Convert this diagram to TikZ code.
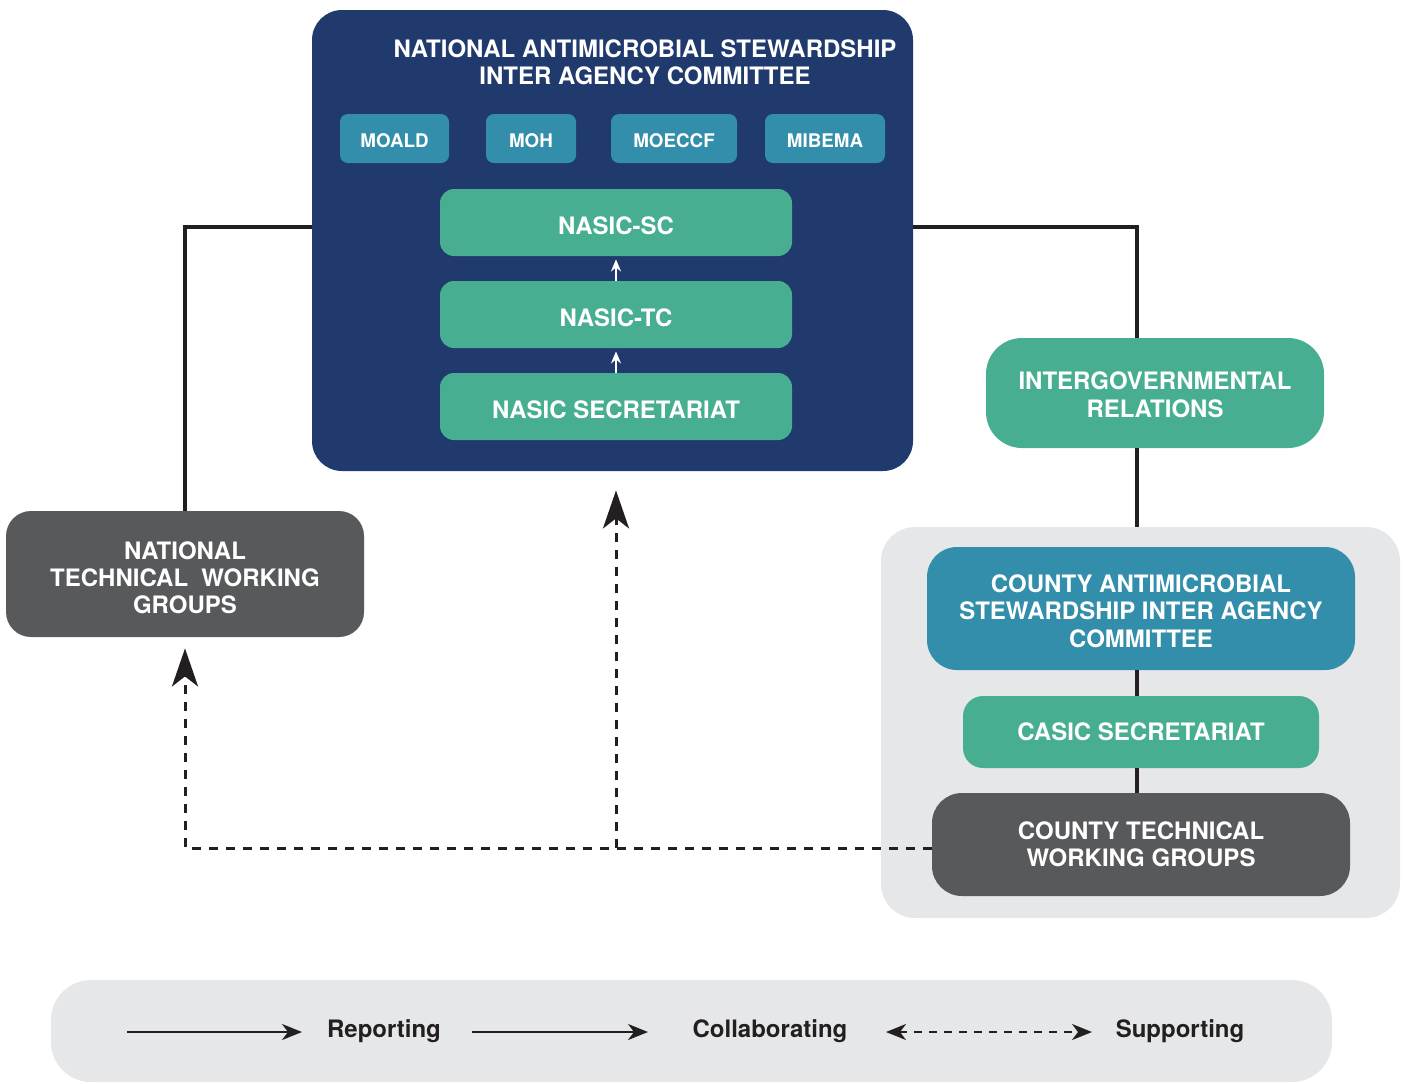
\documentclass[tikz,border=0pt]{standalone}
\usepackage{fontspec}
\setmainfont{TeX Gyre Heros}
\usetikzlibrary{arrows.meta,calc}
\definecolor{navy}{HTML}{203A6E}
\definecolor{teal}{HTML}{328EAB}
\definecolor{mint}{HTML}{47AE91}
\definecolor{dgray}{HTML}{58595B}
\definecolor{lgray}{HTML}{E6E7E9}
\definecolor{ink}{HTML}{231F20}
\tikzset{legtip/.tip={Stealth[length=10pt,width=8pt,inset=3pt]}}
\newcommand\topstrut[1]{\rule{0pt}{#1}}
\begin{document}
\begin{tikzpicture}[x=0.5pt,y=-0.5pt,
  txt/.style={inner sep=0pt, align=center, text=white, font=\bfseries\fontsize{12}{13.7}\selectfont},
  smallbox/.style={txt, fill=teal, minimum height=24.5pt, rounded corners=4pt, font=\bfseries\fontsize{9.4}{11}\selectfont},
  nasicbox/.style={txt, fill=mint, minimum width=176pt, minimum height=33.5pt, rounded corners=7pt},
  conn/.style={draw=ink, line width=1.7pt},
  supp/.style={draw=ink, line width=1.5pt, dash pattern=on 4.5pt off 4pt, -{Stealth[length=19pt,width=13pt,inset=5pt]}},
  legtxt/.style={inner sep=0pt, text=ink, font=\bfseries\fontsize{12}{13.7}\selectfont},
  legarrow/.style={draw=ink, line width=0.9pt, -{legtip}},
  whitearrow/.style={draw=white, line width=1.2pt, shorten >=1.5pt, -{Stealth[length=6pt,width=5pt]}}
]
\useasboundingbox (0,0) rectangle (1407,1083);

% National committee
\node[fill=navy, minimum width=300.5pt, minimum height=230.5pt, rounded corners=15pt] (navy) at (612.5,240.5) {};
\node[txt] (title) at (645,62.5) {NATIONAL ANTIMICROBIAL STEWARDSHIP\\INTER AGENCY COMMITTEE};
\node[smallbox, minimum width=54.5pt] (moald) at (394.5,138.5) {\topstrut{8.8pt}MOALD};
\node[smallbox, minimum width=45pt] (moh) at (531,138.5) {\topstrut{8.8pt}MOH};
\node[smallbox, minimum width=63pt] (moeccf) at (674,138.5) {\topstrut{8.8pt}MOECCF};
\node[smallbox, minimum width=60pt] (mibema) at (825,138.5) {\topstrut{8.8pt}MIBEMA};
\node[nasicbox] (sc) at (616,222.5) {\topstrut{12.6pt}NASIC-SC};
\node[nasicbox] (tc) at (616,314.5) {\topstrut{12.6pt}NASIC-TC};
\node[nasicbox] (sec) at (616,406.5) {\topstrut{12.6pt}NASIC SECRETARIAT};
\draw[whitearrow] (tc.north) -- (sc.south);
\draw[whitearrow] (sec.north) -- (tc.south);

% National technical working groups
\node[txt, fill=dgray, minimum width=179pt, minimum height=63pt, rounded corners=12.5pt] (ntwg) at (185,574) {\topstrut{12.6pt}NATIONAL\\TECHNICAL\ \ WORKING\\GROUPS};

% Intergovernmental relations
\node[txt, fill=mint, minimum width=169pt, minimum height=55pt, rounded corners=18pt] (igr) at (1155,393) {\topstrut{10.6pt}INTERGOVERNMENTAL\\RELATIONS};

% County
\node[fill=lgray, minimum width=259.5pt, minimum height=195.5pt, rounded corners=17pt] (county) at (1140.5,722.5) {};
\node[txt, fill=teal, minimum width=214pt, minimum height=61.5pt, rounded corners=15pt] (cc) at (1141,608.5) {\topstrut{11.6pt}COUNTY ANTIMICROBIAL\\STEWARDSHIP INTER AGENCY\\COMMITTEE};
\node[txt, fill=mint, minimum width=178pt, minimum height=36pt, rounded corners=10pt] (casic) at (1141,732) {CASIC SECRETARIAT};
\node[txt, fill=dgray, minimum width=209pt, minimum height=51.5pt, rounded corners=15pt] (ctwg) at (1141,844.5) {COUNTY TECHNICAL\\WORKING GROUPS};

% helper coordinates
\coordinate (ly) at (0,227);
\coordinate (lx) at (1137,0);
\coordinate (dy) at (0,848);
\coordinate (jn) at (616,848);

% solid connectors
\draw[conn] (navy.west |- ly) -| (ntwg.north);
\draw[conn] (navy.east |- ly) -| (lx |- igr.north);
\draw[conn] (lx |- igr.south) -- (lx |- county.north);
\draw[conn] (lx |- cc.south) -- (lx |- casic.north);
\draw[conn] (lx |- casic.south) -- (lx |- ctwg.north);

% supporting (dashed) connectors
\draw[supp, shorten >=5.5pt] (ctwg.west |- dy) -| (ntwg.south);
\draw[supp, shorten >=9.5pt] (jn) -- (jn |- navy.south);

% legend
\node[fill=lgray, minimum width=640.5pt, minimum height=51pt, rounded corners=20pt] (legend) at (691.5,1031) {};
\coordinate (r1) at (127,1032); \coordinate (r2) at (302,1032);
\coordinate (c1) at (472,1032); \coordinate (c2) at (648,1032);
\coordinate (s1) at (886,1032); \coordinate (s2) at (1092,1032);
\draw[legarrow] (r1) -- (r2);
\node[legtxt] (rep) at (384,1031) {Reporting};
\draw[legarrow] (c1) -- (c2);
\node[legtxt] (col) at (770,1031) {Collaborating};
\draw[draw=ink, line width=0.9pt, dash pattern=on 4pt off 3.5pt, {legtip}-{legtip}] (s1) -- (s2);
\node[legtxt] (sup) at (1180,1031) {Supporting};
\end{tikzpicture}
\end{document}
